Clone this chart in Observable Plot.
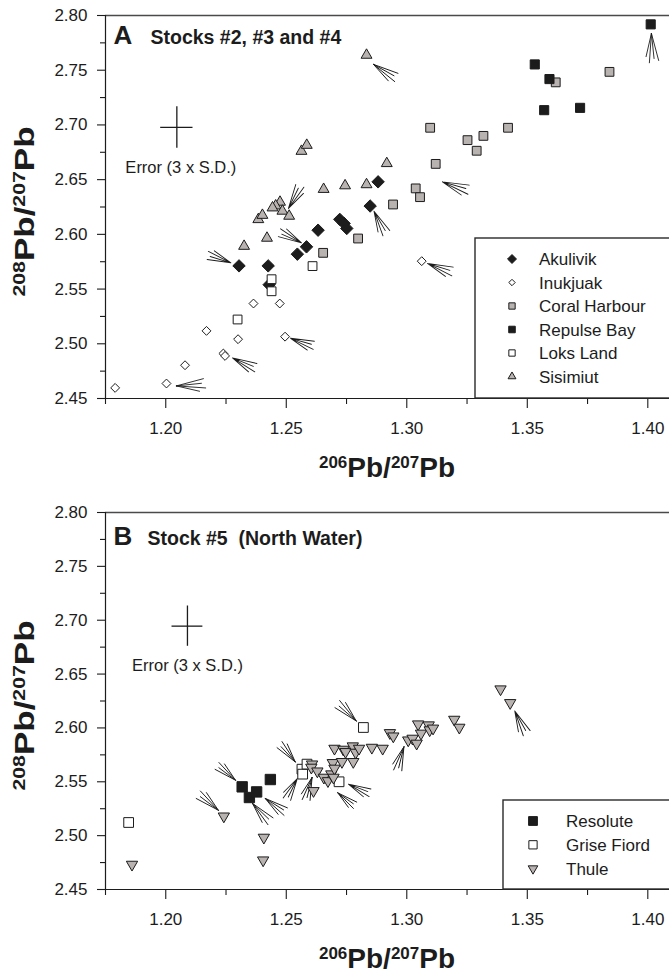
<!DOCTYPE html>
<html><head><meta charset="utf-8">
<script src="https://cdn.jsdelivr.net/npm/d3@7"></script>
<script src="https://cdn.jsdelivr.net/npm/@observablehq/plot@0.6"></script>
<style>
body{margin:0;background:#fff;}
#chart{width:669px;}
#chart svg{display:block;}
</style></head><body><div id="chart"></div>
<script>
// ---------- axes / tick labels ----------
const xDomain = [1.175, 1.409];
const yDomain = [2.45, 2.80];
const xTicks = [1.20, 1.25, 1.30, 1.35, 1.40];
const xMinorTicks = [1.175, 1.225, 1.275, 1.325, 1.375];
const yTicks = [2.45, 2.50, 2.55, 2.60, 2.65, 2.70, 2.75, 2.80];
const yMinorTicks = [2.475, 2.525, 2.575, 2.625, 2.675, 2.725, 2.775];
const xTitleParts = [["206", true], ["Pb/", false], ["207", true], ["Pb", false]];
const yTitleParts = [["208", true], ["Pb/", false], ["207", true], ["Pb", false]];

// ---------- panel A: Stocks #2, #3 and #4 ----------
const akulivik = [[1.2881,2.648],[1.2848,2.6259],[1.2722,2.6137],[1.274,2.610],[1.2751,2.6054],[1.2632,2.6038],[1.2584,2.5886],[1.2546,2.5819],[1.2425,2.5712],[1.2304,2.5712],[1.2429,2.554]];
const inukjuak = [[1.179,2.4597],[1.2003,2.4637],[1.208,2.4804],[1.2169,2.5118],[1.2239,2.4911],[1.2246,2.4889],[1.230,2.5042],[1.2364,2.5368],[1.2473,2.5368],[1.2495,2.5065],[1.3062,2.5755]];
const coralHarbour = [[1.3618,2.7389],[1.3841,2.7485],[1.3097,2.6974],[1.3252,2.6861],[1.3318,2.690],[1.342,2.6974],[1.329,2.6764],[1.312,2.6644],[1.3037,2.642],[1.3055,2.634],[1.2943,2.6273],[1.2798,2.5962],[1.2653,2.5831]];
const repulseBay = [[1.4012,2.7919],[1.3531,2.7553],[1.3592,2.7419],[1.357,2.7135],[1.3719,2.7156]];
const loksLand = [[1.2439,2.559],[1.2439,2.548],[1.2609,2.571],[1.2298,2.5222]];
const sisimiut = [[1.2833,2.7638],[1.2917,2.6648],[1.2744,2.6445],[1.2833,2.6455],[1.2655,2.6412],[1.2563,2.676],[1.2585,2.6815],[1.2474,2.6295],[1.2456,2.6261],[1.2443,2.6243],[1.2484,2.6213],[1.2512,2.6167],[1.2384,2.6136],[1.2401,2.6175],[1.242,2.5966],[1.2325,2.5892]];
// arrow fans: [tip x, tip y, direction (deg clockwise from up), length px]
const arrowsA = [[1.4015,2.7836,180,28],[1.2862,2.7553,125,26],[1.3148,2.648,112,27],[1.2509,2.6237,32,25],[1.2563,2.5922,300,24],[1.2864,2.6212,156,25],[1.3086,2.5734,113,26],[1.227,2.574,293,24],[1.2044,2.4615,90,28],[1.2277,2.4871,118,25],[1.2518,2.505,112,24]];
const errorA = [{x: 1.2046, y: 2.6977, ex: 0.0067, ey: 0.019}];

// ---------- panel B: Stock #5 (North Water) ----------
const resolute = [[1.2317,2.5453],[1.2347,2.5354],[1.2377,2.5406],[1.2434,2.5521]];
const griseFiord = [[1.1846,2.5122],[1.282,2.6004],[1.2565,2.5617],[1.2568,2.5571],[1.2586,2.5664],[1.2719,2.55]];
const thule = [[1.186,2.4732],[1.2241,2.518],[1.2407,2.4983],[1.2404,2.4772],[1.2613,2.5416],[1.2607,2.5663],[1.2604,2.5633],[1.2629,2.5598],[1.2656,2.554],[1.2673,2.5508],[1.2687,2.5571],[1.2693,2.5676],[1.27,2.5624],[1.2696,2.554],[1.27,2.5809],[1.2737,2.58],[1.2746,2.5778],[1.2731,2.5686],[1.2778,2.5686],[1.2776,2.5831],[1.2788,2.5772],[1.2802,2.5809],[1.2855,2.5818],[1.29,2.5809],[1.293,2.5954],[1.2944,2.5923],[1.3006,2.5886],[1.3024,2.5902],[1.3041,2.5856],[1.3047,2.6035],[1.3059,2.5949],[1.3091,2.6026],[1.3095,2.598],[1.3109,2.5996],[1.3197,2.6078],[1.3218,2.6004],[1.3389,2.636],[1.3429,2.6233]];
const arrowsB = [[1.279,2.6065,317,25],[1.3448,2.6158,157,25],[1.2988,2.5824,200,24],[1.2537,2.5685,323,23],[1.2289,2.5515,313,23],[1.2218,2.5236,313,25],[1.236,2.5299,140,25],[1.2413,2.5345,128,24],[1.2546,2.5531,212,23],[1.2607,2.554,200,23],[1.2714,2.5397,131,21],[1.2758,2.5478,117,23]];
const errorB = [{x: 1.209, y: 2.6945, ex: 0.0064, ey: 0.0187}];

// ---------- styles ----------
const FONT = "'Liberation Sans', Arial, Helvetica, sans-serif";
const INK = "#1c1c1c";
const GRAY = "#b8b2b0";
const symbolMap = {diamond2: d3.symbolDiamond2, square2: d3.symbolSquare2, triangle2: d3.symbolTriangle2};

const seriesA = [
  {name: "Akulivik", data: akulivik, symbol: "diamond2", fill: INK, r: 5.6, order: 2},
  {name: "Inukjuak", data: inukjuak, symbol: "diamond2", fill: "white", r: 4.0, order: 4},
  {name: "Coral Harbour", data: coralHarbour, symbol: "square2", fill: GRAY, r: 5.6, order: 0},
  {name: "Repulse Bay", data: repulseBay, symbol: "square2", fill: INK, r: 5.8, order: 1},
  {name: "Loks Land", data: loksLand, symbol: "square2", fill: "white", r: 5.6, order: 3},
  {name: "Sisimiut", data: sisimiut, symbol: "triangle2", fill: GRAY, r: 5.2, order: 5}
];
const seriesB = [
  {name: "Resolute", data: resolute, symbol: "square2", fill: INK, r: 6.6, order: 2},
  {name: "Grise Fiord", data: griseFiord, symbol: "square2", fill: "white", r: 6.2, order: 0},
  {name: "Thule", data: thule, symbol: "triangle2", fill: GRAY, r: 5.4, rotate: 180, order: 1}
];

const fanShape = {
  draw(context, l) {
    const spokes = [[-15, 1.0], [-6, 0.9], [4, 1.05], [13, 0.85]];
    for (const [a, k] of spokes) {
      const t = a * Math.PI / 180;
      context.moveTo(0, 0);
      context.lineTo(l * k * Math.sin(t), -l * k * Math.cos(t));
    }
  }
};

function titleMark(parts, orient, pos, big, small) {
  return (index, scales, values, dims) => {
    const t = d3.create("svg:text")
      .attr("font-family", FONT).attr("font-weight", "bold")
      .attr("fill", INK).attr("text-anchor", "middle");
    if (orient === "y") {
      const cy = dims.marginTop + (dims.height - dims.marginTop - dims.marginBottom) / 2 + pos.shift;
      t.attr("transform", `translate(${pos.x},${cy}) rotate(-90) scale(${pos.stretch},1)`);
    } else {
      const cx = dims.marginLeft + (dims.width - dims.marginLeft - dims.marginRight) / 2 + pos.shift;
      t.attr("transform", `translate(${cx},${dims.height - dims.marginBottom + pos.y})`);
    }
    let raised = false;
    for (const [s, sup] of parts) {
      const sp = t.append("tspan").text(s).attr("font-size", sup ? small : big);
      if (sup && !raised) { sp.attr("dy", -9); raised = true; }
      else if (!sup && raised) { sp.attr("dy", 9); raised = false; }
    }
    return t.node();
  };
}

function legendMark(series, box) {
  return (index, scales, values, dims) => {
    const g = d3.create("svg:g").attr("font-family", FONT).attr("font-size", 17)
      .attr("fill", INK).attr("text-anchor", "start");
    const bottom = dims.height - dims.marginBottom;
    const left = dims.width - box.width;
    const top = bottom - box.height;
    g.append("rect").attr("x", left).attr("y", top).attr("width", box.width + 10).attr("height", box.height)
      .attr("fill", "white").attr("stroke", "#2a2a2a").attr("stroke-width", 1.4);
    series.forEach((s, i) => {
      const cy = top + box.first + i * box.step;
      const size = Math.PI * (s.r * box.k) ** 2;
      g.append("path")
        .attr("d", d3.symbol(symbolMap[s.symbol], size)())
        .attr("transform", `translate(${left + box.sym},${cy})${s.rotate ? ` rotate(${s.rotate})` : ""}`)
        .attr("fill", s.fill).attr("stroke", INK).attr("stroke-width", 1);
      g.append("text").attr("x", left + box.text).attr("y", cy).attr("dy", "0.36em")
        .attr("text-anchor", "start").text(s.name);
    });
    return g.node();
  };
}

function panel(cfg) {
  const dotMarks = [...cfg.series].sort((a, b) => a.order - b.order).map(s =>
    Plot.dot(s.data, {x: d => d[0], y: d => d[1], symbol: s.symbol, r: s.r, fill: s.fill,
      stroke: INK, strokeWidth: 1, rotate: s.rotate || 0}));
  return Plot.plot({
    width: 669, height: cfg.height,
    marginLeft: 105, marginRight: 0, marginTop: cfg.mt, marginBottom: cfg.mb,
    x: {domain: xDomain},
    y: {domain: yDomain},
    length: {type: "identity"},
    style: {fontFamily: FONT, color: INK, background: "white"},
    marks: [
      Plot.ruleY([yDomain[1]], {stroke: "#4a4a4a", strokeWidth: 1.6}),
      Plot.ruleX([xDomain[0]], {stroke: INK, strokeWidth: 1.2}),
      Plot.ruleY([yDomain[0]], {stroke: INK, strokeWidth: 1.2}),
      Plot.axisY({ticks: yTicks, tickSize: 8, tickPadding: 10, tickFormat: d3.format(".2f"), fontSize: 17, label: null, strokeWidth: 1.1}),
      Plot.axisY({ticks: yMinorTicks, tickSize: 5, tickFormat: () => "", label: null, strokeWidth: 1.1}),
      Plot.axisX({ticks: xTicks, tickSize: 10, tickPadding: 13, tickFormat: d3.format(".2f"), fontSize: 17, label: null, strokeWidth: 1.1}),
      Plot.axisX({ticks: xMinorTicks, tickSize: 6, tickFormat: () => "", label: null, strokeWidth: 1.1}),
      // error cross
      Plot.ruleY(cfg.error, {y: "y", x1: d => d.x - d.ex, x2: d => d.x + d.ex, stroke: INK, strokeWidth: 1.3}),
      Plot.ruleX(cfg.error, {x: "x", y1: d => d.y - d.ey, y2: d => d.y + d.ey, stroke: INK, strokeWidth: 1.3}),
      Plot.text(cfg.error, {x: "x", y: "y", text: () => "Error (3 x S.D.)", dx: cfg.errDx, dy: 40, fontSize: 16.5, fill: INK}),
      // panel headings
      Plot.text([cfg.letter], {frameAnchor: "top-left", text: d => d, dx: 8, dy: cfg.headDy, lineAnchor: "bottom", textAnchor: "start", fontSize: 26, fontWeight: "bold", fill: INK}),
      Plot.text([cfg.heading], {frameAnchor: "top-left", text: d => d, dx: cfg.headDx, dy: cfg.headDy, lineAnchor: "bottom", textAnchor: "start", fontSize: 19.5, fontWeight: "bold", fill: INK}),
      // arrows
      Plot.vector(cfg.arrows, {x: d => d[0], y: d => d[1], rotate: d => d[2], length: d => d[3], anchor: "start", shape: fanShape, stroke: INK, strokeWidth: 0.9}),
      ...dotMarks,
      legendMark(cfg.series, cfg.legend),
      titleMark(yTitleParts, "y", {x: 34, shift: 5, stretch: 1.25}, 28, 17),
      titleMark(xTitleParts, "x", {y: cfg.xTitleY, shift: 0}, 28, 17)
    ]
  });
}

const chart = document.getElementById("chart");
chart.append(panel({
  height: 485, mt: 15, mb: 87,
  series: seriesA, arrows: arrowsA, error: errorA, errDx: 4,
  letter: "A", heading: "Stocks #2, #3 and #4", headDx: 45, headDy: 28,
  legend: {width: 194, height: 160, first: 21, step: 23.5, sym: 37, text: 64, k: 0.72},
  xTitleY: 79
}));
chart.append(panel({
  height: 489, mt: 27, mb: 85,
  series: seriesB, arrows: arrowsB, error: errorB, errDx: 0,
  letter: "B", heading: "Stock #5\u00a0\u00a0(North Water)", headDx: 42, headDy: 32,
  legend: {width: 166, height: 89, first: 21, step: 23.8, sym: 30, text: 63, k: 0.85},
  xTitleY: 79
}));
</script>
</body></html>
